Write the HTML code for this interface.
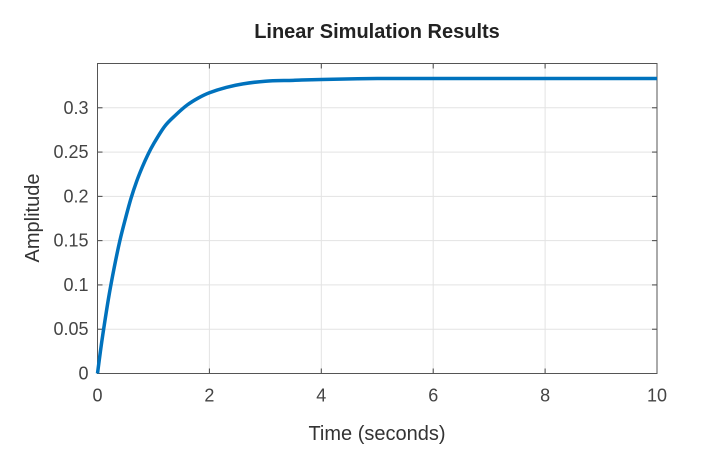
<!DOCTYPE html>
<html><head><meta charset="utf-8"><style>
body{margin:0;background:#fff;width:727px;height:458px;overflow:hidden;font-family:"Liberation Sans",sans-serif}
</style></head><body>
<svg id="chart" width="727" height="458" xmlns="http://www.w3.org/2000/svg">
<text x="377" y="38" text-anchor="middle" font-size="20" font-weight="bold" fill="#222">Linear Simulation Results</text>
<g id="grid"></g>
<g id="axes"></g>
<text x="377" y="440" text-anchor="middle" font-size="20" fill="#333">Time (seconds)</text>
<text transform="translate(39,218) rotate(-90)" text-anchor="middle" font-size="20" fill="#333">Amplitude</text>
</svg>
<script>
const timeValues=[0,0.05,0.1,0.2,0.3,0.4,0.5,0.6,0.7,0.8,0.9,1.0,1.2,1.4,1.6,1.8,2.0,2.3,2.6,3.0,3.5,4,5,6,8,10];
const amplitudeValues=[0,0.024,0.046,0.086,0.120,0.150,0.175,0.198,0.217,0.233,0.247,0.259,0.279,0.292,0.303,0.311,0.317,0.323,0.327,0.330,0.331,0.332,0.333,0.333,0.333,0.333];
const xTicks=[0,2,4,6,8,10];
const yTicks=[0,0.05,0.1,0.15,0.2,0.25,0.3];
const yTickLabels=["0","0.05","0.1","0.15","0.2","0.25","0.3"];
const L=97.5,R=657,T=63.5,B=373.5,xMax=10,yMax=0.35;
const sx=v=>L+(R-L)*v/xMax, sy=v=>B-(B-T)*v/yMax;
const NS="http://www.w3.org/2000/svg";
const svg=document.getElementById('chart'),grid=document.getElementById('grid'),axes=document.getElementById('axes');
function mk(tag,attrs,parent){const e=document.createElementNS(NS,tag);for(const k in attrs)e.setAttribute(k,attrs[k]);parent.appendChild(e);return e;}
xTicks.forEach(t=>{
 const g=mk('line',{x1:sx(t),x2:sx(t),y1:T,y2:B,stroke:'#e3e3e3','stroke-width':1},grid);
 
 
 const tk=mk('line',{x1:sx(t),x2:sx(t),y1:B,y2:B-5,stroke:'#444'},axes);
 
 
 const tk2=mk('line',{x1:sx(t),x2:sx(t),y1:T,y2:T+5,stroke:'#444'},axes);
 
 
 const l=mk('text',{x:sx(t),y:B+28,'text-anchor':'middle','font-size':18,fill:'#444'},axes);
 l.textContent=t;
 
 
});
yTicks.forEach((t,i)=>{
 const g=mk('line',{x1:L,x2:R,y1:sy(t),y2:sy(t),stroke:'#e3e3e3','stroke-width':1},grid);
 
 
 const tk=mk('line',{x1:L,x2:L+5,y1:sy(t),y2:sy(t),stroke:'#444'},axes);
 
 
 const tk2=mk('line',{x1:R,x2:R-5,y1:sy(t),y2:sy(t),stroke:'#444'},axes);
 
 
 const l=mk('text',{x:L-9,y:sy(t)+6,'text-anchor':'end','font-size':18,fill:'#444'},axes);
 l.textContent=yTickLabels[i];
 
 
});
const box=mk('rect',{x:L,y:T,width:R-L,height:B-T,fill:'none',stroke:'#555','stroke-width':1},axes);


const P=timeValues.map((t,i)=>[sx(t),sy(amplitudeValues[i])]);
let d='M'+P[0][0].toFixed(2)+','+P[0][1].toFixed(2);
for(let i=0;i<P.length-1;i++){
 const p0=P[Math.max(0,i-1)],p1=P[i],p2=P[i+1],p3=P[Math.min(P.length-1,i+2)];
 const c1=[p1[0]+(p2[0]-p0[0])/6,p1[1]+(p2[1]-p0[1])/6];
 const c2=[p2[0]-(p3[0]-p1[0])/6,p2[1]-(p3[1]-p1[1])/6];
 d+=' C'+c1.map(v=>v.toFixed(2)).join(',')+' '+c2.map(v=>v.toFixed(2)).join(',')+' '+p2.map(v=>v.toFixed(2)).join(',');
}
const line=mk('path',{d:d,fill:'none',stroke:'#0072bd','stroke-width':3.5,'stroke-linejoin':'round'},svg);


</script>
</body></html>
